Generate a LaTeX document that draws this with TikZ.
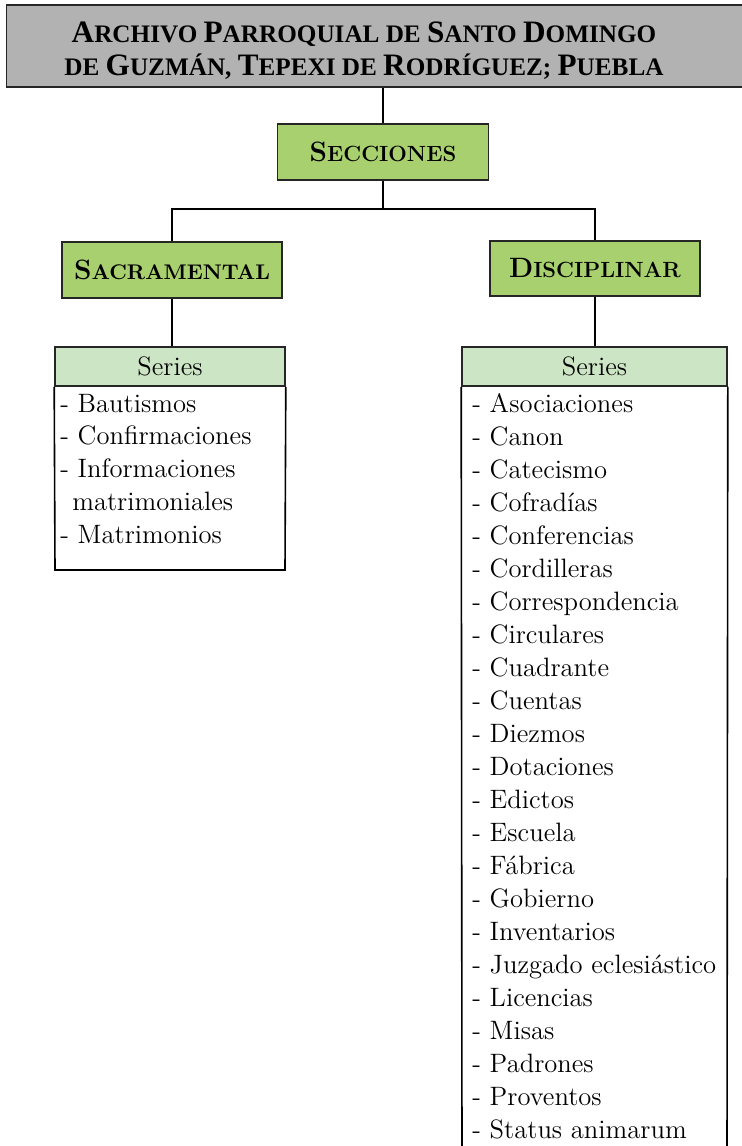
\documentclass[tikz,border=0pt]{standalone}
\usepackage{fontspec}
\usepackage{tikz}
\usetikzlibrary{positioning, calc}
\newfontfamily\titlefont{Liberation Serif}
\definecolor{archivegray}{RGB}{178, 178, 178}
\definecolor{sectiongreen}{RGB}{168, 208, 110}
\definecolor{seriesgreen}{RGB}{204, 229, 196}
% first letter of a fake small-caps word
\newcommand{\tcap}[1]{{\fontsize{15.6}{15.6}\selectfont #1}}
\newcommand{\bcap}[1]{{\fontsize{14}{14}\selectfont #1}}

\begin{document}
\begin{tikzpicture}[
  x=0.5pt, y=-0.5pt,
  every node/.style={font=\fontsize{13.3}{16.4}\selectfont},
  titlebox/.style={draw=black!85, line width=0.9pt, fill=archivegray, inner sep=0pt},
  sectionbox/.style={draw=black!85, line width=0.9pt, fill=sectiongreen, inner sep=0pt,
    font=\bfseries\fontsize{11}{11}\selectfont},
  serieshead/.style={draw=black!85, line width=0.8pt, fill=seriesgreen, inner sep=0pt},
  link/.style={draw=black, line width=0.7pt}
]
  \clip (0,0) rectangle (742,1146);

  % Archive title
  \node[titlebox, minimum width=371pt, minimum height=41pt] (archivo) at (377.5,46) {};
  \node[align=center, inner sep=0pt,
    font=\titlefont\bfseries\fontsize{12.6}{16.5}\selectfont] (archivotext) at (364,50.5)
    {\tcap{A}RCHIVO \tcap{P}ARROQUIAL DE \tcap{S}ANTO \tcap{D}OMINGO\\
     DE \tcap{G}UZMÁN, \tcap{T}EPEXI DE \tcap{R}ODRÍGUEZ; \tcap{P}UEBLA};

  % Sections
  \node[sectionbox, minimum width=105.5pt, minimum height=28pt] (secciones) at (383,152)
    {\bcap{S}ECCIONES};
  \node[sectionbox, minimum width=110pt, minimum height=28pt,
    font=\bfseries\fontsize{10.6}{11}\selectfont] (sacramental) at (172,270)
    {\bcap{S}ACRAMENTAL};
  \node[sectionbox, minimum width=105pt, minimum height=27.5pt] (disciplinar) at (595,268.5)
    {\bcap{D}ISCIPLINAR};

  % Series headers
  \node[serieshead, minimum width=115pt, minimum height=19.5pt] (sacseries) at (170,366.5) {Series};
  \node[serieshead, minimum width=132.5pt, minimum height=19.5pt] (disseries) at (594.5,366.5) {Series};

  % Series lists
  \draw[line width=0.8pt] (sacseries.south west) -- (55,570) -- (285,570) -- (sacseries.south east);
  \draw[line width=0.8pt] (disseries.south west) -- (462,1160);
  \draw[line width=0.8pt] (disseries.south east) -- (727,1160);

  \foreach \serie [count=\i from 0] in {- Bautismos, - Confirmaciones, - Informaciones,
    {\hspace{0.45em}matrimoniales}, - Matrimonios} {
    \node[anchor=base west, inner sep=0pt] (sac\i) at (60,412+32.9*\i) {\serie};
  }
  \foreach \serie [count=\i from 0] in {- Asociaciones, - Canon, - Catecismo, - Cofradías,
    - Conferencias, - Cordilleras, - Correspondencia, - Circulares, - Cuadrante, - Cuentas,
    - Diezmos, - Dotaciones, - Edictos, - Escuela, - Fábrica, - Gobierno, - Inventarios,
    - Juzgado eclesiástico, - Licencias, - Misas, - Padrones, - Proventos,
    - Status animarum} {
    \node[anchor=base west, inner sep=0pt] (dis\i) at (472,412+33*\i) {\serie};
  }

  % Connectors
  \coordinate (split) at (383,209);
  \draw[link] (secciones.north |- archivo.south) -- (secciones.north);
  \draw[link] (secciones.south) -- (split);
  \draw[link] (sacramental.north) |- (split) -| (disciplinar.north);
  \draw[link] (sacramental.south) -- (sacramental.south |- sacseries.north);
  \draw[link] (disciplinar.south) -- (disciplinar.south |- disseries.north);
\end{tikzpicture}
\end{document}
